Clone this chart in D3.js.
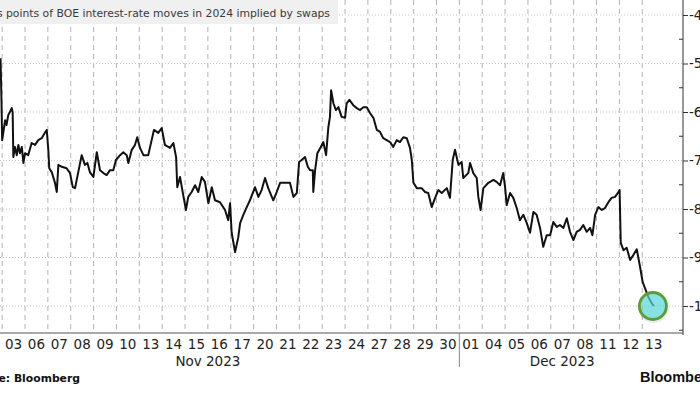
<!DOCTYPE html>
<html><head><meta charset="utf-8">
<script src="https://cdn.jsdelivr.net/npm/d3@7"></script>
<style>html,body{margin:0;padding:0;background:#fff;overflow:hidden}</style>
</head><body>
<svg id="c" width="700" height="394"></svg>
<script>
const titleText = "Basis points of BOE interest-rate moves in 2024 implied by swaps";
const sourceText = "Source: Bloomberg";
const brandText = "Bloomberg";
// trading days in view (the first two, 01 and 02 Nov, fall off the left edge)
const dayLabels = ["01","02","03","06","07","08","09","10","13","14","15","16","17","20","21","22","23","24","27","28","29","30","01","04","05","06","07","08","11","12","13"];
const monthLabels = ["Nov 2023","Dec 2023"];
const monthTradingDays = [22, 9];
const yTicks = [-40,-50,-60,-70,-80,-90,-100];
const yMinorTicks = [-35,-45,-55,-65,-75,-85,-95,-105];
// position in trading days since the start of the 03 Nov session
const dayPos = [-0.07,-0.03,0.00,0.02,0.13,0.19,0.27,0.34,0.42,0.46,
0.49,0.56,0.64,0.71,0.78,0.86,0.93,1.00,1.14,1.29,
1.44,1.58,1.73,1.87,1.95,2.02,2.06,2.17,2.31,2.39,
2.46,2.61,2.82,2.97,3.09,3.19,3.33,3.48,3.62,3.73,
3.84,3.99,4.14,4.28,4.43,4.57,4.72,4.86,4.98,5.16,
5.30,5.45,5.52,5.67,5.81,5.91,6.03,6.18,6.39,6.54,
6.64,6.83,6.98,7.12,7.34,7.49,7.61,7.66,7.78,7.92,
8.04,8.14,8.29,8.44,8.58,8.73,8.87,9.02,9.17,9.31,
9.53,9.75,9.89,9.97,10.04,10.19,10.33,10.41,10.55,10.70,
10.84,11.06,11.21,11.35,11.50,11.64,11.86,12.01,12.16,12.37,
12.59,12.74,12.89,12.99,13.10,13.25,13.37,13.47,13.59,13.61,
13.69,13.79,13.94,14.05,14.17,14.27,14.34,14.39,14.49,14.60,
14.71,14.85,15.00,15.07,15.19,15.36,15.51,15.66,15.80,15.95,
16.09,16.24,16.39,16.53,16.67,16.82,16.97,17.11,17.26,17.40,
17.55,17.70,17.84,17.92,17.99,18.14,18.35,18.50,18.64,18.79,
18.94,19.08,19.23,19.45,19.59,19.71,19.81,19.96,20.10,20.17,
20.39,20.47,20.61,20.76,20.83,20.93,21.05,21.27,21.49,21.63,
21.78,21.92,22.00,22.07,22.22,22.36,22.51,22.65,22.80,22.95,
23.09,23.24,23.38,23.53,23.67,23.82,23.97,24.11,24.26,24.40,
24.55,24.70,24.84,24.99,25.13,25.28,25.42,25.57,25.72,25.82,
25.94,26.08,26.23,26.37,26.52,26.66,26.81,26.96,27.01,27.06,
27.18,27.32,27.47,27.61,27.76,27.90,28.02,28.12,28.27,28.41,28.51];
const bp = [-48.9,-57.5,-65.8,-65.2,-61.7,-62.7,-60.6,-60.0,-59.2,-60.0,
-69.3,-67.2,-68.9,-66.8,-68.5,-67.2,-70.5,-68.5,-68.9,-66.4,
-66.8,-65.8,-65.4,-64.3,-63.7,-67.8,-71.6,-72.4,-74.6,-76.5,
-70.9,-71.3,-71.6,-72.6,-75.5,-75.7,-72.4,-68.9,-70.9,-70.5,
-72.4,-73.4,-68.3,-72.0,-72.6,-73.0,-72.0,-72.0,-69.9,-68.9,
-68.3,-68.9,-70.5,-67.8,-66.8,-65.2,-67.4,-68.9,-68.9,-65.8,
-63.7,-64.3,-63.3,-66.8,-67.4,-66.4,-69.3,-75.5,-73.4,-77.1,
-80.2,-77.5,-76.5,-75.1,-76.5,-73.4,-74.4,-78.8,-75.5,-78.2,
-78.6,-80.2,-82.3,-78.8,-84.9,-88.9,-85.8,-82.9,-81.2,-79.6,
-78.2,-75.5,-77.5,-76.1,-73.6,-75.7,-78.2,-76.5,-74.6,-74.6,
-74.6,-77.5,-76.7,-70.3,-69.9,-69.3,-71.3,-72.0,-72.0,-76.5,
-72.0,-68.5,-67.2,-66.2,-68.9,-63.1,-61.0,-55.5,-58.2,-59.6,
-59.0,-61.0,-61.2,-58.2,-57.5,-58.6,-59.2,-59.6,-59.0,-59.0,
-60.2,-61.2,-63.7,-64.1,-65.4,-65.8,-66.2,-67.2,-65.8,-66.2,
-65.2,-65.4,-67.4,-69.9,-74.6,-75.7,-75.7,-76.5,-76.7,-79.6,
-77.7,-76.1,-76.7,-75.7,-77.7,-69.9,-67.8,-70.9,-70.3,-73.6,
-72.6,-70.5,-72.6,-73.6,-77.5,-80.2,-75.7,-74.6,-74.0,-74.4,
-75.1,-72.6,-75.5,-79.2,-76.7,-77.7,-79.8,-82.3,-81.2,-82.9,
-84.9,-80.6,-81.2,-83.9,-87.8,-85.4,-85.4,-82.7,-83.7,-83.3,
-83.9,-81.9,-84.7,-86.4,-84.7,-84.3,-83.3,-84.7,-83.9,-85.4,
-81.2,-79.6,-80.2,-79.8,-78.6,-77.7,-77.5,-76.5,-76.1,-87.0,
-88.5,-88.0,-90.5,-89.5,-88.3,-91.8,-95.1,-96.3,-98.2,-99.4,-100.0];

const svg = d3.select("#c");
const axisX = 683, plotBottom = 333;
const firstDay = -2;
const x = d3.scaleLinear().domain([firstDay, firstDay + dayLabels.length]).range([-43.58, 665.1]);
const y = d3.scaleLinear().domain([-40, -100]).range([15, 306]);

// vertical dashed gridlines at session boundaries
const bounds = d3.range(0, 29);
svg.append("g").selectAll("line").data(bounds).join("line")
  .attr("x1", d => x(d)).attr("x2", d => x(d))
  .attr("y1", 0).attr("y2", plotBottom)
  .attr("stroke", "#b4b4b4").attr("stroke-width", 1).attr("stroke-dasharray", "5,4");

// horizontal dotted gridlines
svg.append("g").selectAll("line").data(yTicks).join("line")
  .attr("x1", 0).attr("x2", axisX)
  .attr("y1", d => y(d)).attr("y2", d => y(d))
  .attr("stroke", "#c4c4c4").attr("stroke-width", 1).attr("stroke-dasharray", "1,2");

// title band
svg.append("rect").attr("x", 0).attr("y", 0).attr("width", 338).attr("height", 24).attr("fill", "#f0f0f0");
svg.append("text").attr("x", 330).attr("y", 17).attr("text-anchor", "end")
  .attr("font-family", "DejaVu Sans").attr("font-size", 10.8).attr("fill", "#3a3a3a").text(titleText);

// line
const pts = dayPos.map((d, i) => [d, bp[i]]);
const line = d3.line().x(d => x(d[0])).y(d => y(d[1]));
svg.append("path").datum(pts).attr("d", line)
  .attr("fill", "none").attr("stroke", "#111").attr("stroke-width", 2)
  .attr("stroke-linejoin", "round");

// highlight circle on the latest value
const last = pts[pts.length - 1];
svg.append("circle").attr("cx", x(last[0]) - 0.5).attr("cy", y(last[1]) + 1.5).attr("r", 15.5)
  .attr("fill", "#000").attr("opacity", 0.08);
svg.append("circle").attr("cx", x(last[0]) - 1).attr("cy", y(last[1])).attr("r", 13.5)
  .attr("fill", "#5fdede").attr("fill-opacity", 0.7)
  .attr("stroke", "#5c9e34").attr("stroke-width", 2.8);

// right axis
const yAxis = d3.axisRight(y).tickValues(yTicks).tickSize(5).tickSizeOuter(0).tickPadding(1).tickFormat(d => d);
const ga = svg.append("g").attr("transform", `translate(${axisX},0)`).call(yAxis);
ga.select(".domain").remove();
ga.selectAll(".tick line").attr("stroke", "#333");
ga.selectAll(".tick text").attr("font-family", "DejaVu Sans").attr("font-size", 13.5).attr("fill", "#222");
svg.append("line").attr("x1", axisX).attr("x2", axisX).attr("y1", 0).attr("y2", plotBottom + 2)
  .attr("stroke", "#333").attr("stroke-width", 1);
svg.append("g").selectAll("line").data(yMinorTicks).join("line")
  .attr("x1", axisX - 4).attr("x2", axisX)
  .attr("y1", d => y(d)).attr("y2", d => y(d))
  .attr("stroke", "#333");

// bottom axis
svg.append("line").attr("x1", 0).attr("x2", axisX).attr("y1", plotBottom).attr("y2", plotBottom)
  .attr("stroke", "#555").attr("stroke-width", 1);
svg.append("g").selectAll("text").data(dayLabels).join("text")
  .attr("x", (d, i) => x(firstDay + i + 0.5)).attr("y", 349)
  .attr("text-anchor", "middle").attr("font-family", "DejaVu Sans").attr("font-size", 13.5).attr("fill", "#222")
  .text(d => d);
let start = firstDay;
monthLabels.forEach((m, i) => {
  const end = start + monthTradingDays[i];
  svg.append("text").attr("x", x((start + end) / 2)).attr("y", 366)
    .attr("text-anchor", "middle").attr("font-family", "DejaVu Sans").attr("font-size", 13.5).attr("fill", "#222").text(m);
  if (i > 0) {
    svg.append("line").attr("x1", x(start)).attr("x2", x(start)).attr("y1", plotBottom).attr("y2", 367)
      .attr("stroke", "#888");
  }
  start = end;
});

// footer
svg.append("text").attr("x", 80).attr("y", 382).attr("text-anchor", "end")
  .attr("font-family", "DejaVu Sans").attr("font-weight", "bold").attr("font-size", 10.8).attr("fill", "#111").text(sourceText);
svg.append("text").attr("x", 640).attr("y", 382)
  .attr("font-family", "Liberation Sans").attr("font-weight", "bold").attr("font-size", 14.5).attr("fill", "#111").text(brandText);
</script>
</body></html>
